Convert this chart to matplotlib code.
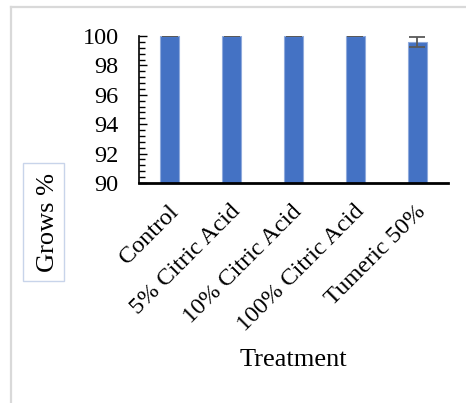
import numpy as np
import matplotlib
matplotlib.use("Agg")
import matplotlib.pyplot as plt
import matplotlib.transforms as mtransforms
from matplotlib.patches import Rectangle
from matplotlib.lines import Line2D
from matplotlib.ticker import MultipleLocator

treatments = ["Control", "5% Citric Acid", "10% Citric Acid", "100% Citric Acid", "Tumeric 50%"]
grows = [100, 100, 100, 100, 99.6]
errors = [0, 0, 0, 0, 0.33]

plt.rcParams['font.family'] = ['Liberation Serif', 'DejaVu Serif']

W, H = 466, 403
fig = plt.figure(figsize=(W / 100, H / 100), dpi=100)
ax = fig.add_axes([139 / W, 1 - 183 / H, (448 - 139) / W, (183 - 36) / H])

x = np.arange(len(treatments))
ax.bar(x, grows, width=0.31, color="#4472C4", edgecolor="#8faadc", linewidth=0.8,
       yerr=errors, error_kw=dict(ecolor="#595959", elinewidth=1.3, capsize=5.5, capthick=1.3))

ax.set_xlim(-0.5, len(treatments) - 0.5)
ax.set_ylim(90, 100)
ax.yaxis.set_major_locator(MultipleLocator(2))
ax.yaxis.set_minor_locator(MultipleLocator(0.4))
ax.set_xticks(x)
ax.set_xticklabels(treatments, rotation=45, ha="right", va="top", rotation_mode="anchor")
ax.tick_params(axis="x", length=0, labelsize=17.5, pad=13)
ax.tick_params(axis="y", which="major", direction="in", length=5.5, width=1, labelsize=17.5, pad=14.5)
ax.tick_params(axis="y", which="minor", direction="in", length=4, width=1)

shift = mtransforms.ScaledTranslation(-2 / 100, 0, fig.dpi_scale_trans)
for lbl in ax.get_xticklabels():
    lbl.set_transform(lbl.get_transform() + shift)

for s in ["top", "right"]:
    ax.spines[s].set_visible(False)
ax.spines["left"].set_linewidth(1.2)
ax.spines["bottom"].set_linewidth(2)

# outer frame lines
fig.add_artist(Line2D([11 / W, 11 / W], [0, 1 - 7 / H], color="#d9d9d9", linewidth=1.6))
fig.add_artist(Line2D([11 / W, 1], [1 - 7 / H, 1 - 7 / H], color="#d9d9d9", linewidth=1.6))

# y label in a box
fig.add_artist(Rectangle((23 / W, 1 - 281 / H), 41 / W, 118 / H, transform=fig.transFigure,
                         facecolor="white", edgecolor="#c8d4ea", linewidth=1))
fig.text(48 / W, 1 - 222 / H, "Grows %", rotation=90, fontsize=19, ha="center", va="center")

fig.text(293.5 / W, 1 - 360 / H, "Treatment", fontsize=19, ha="center", va="center")

fig.savefig("out.png", dpi=100)
